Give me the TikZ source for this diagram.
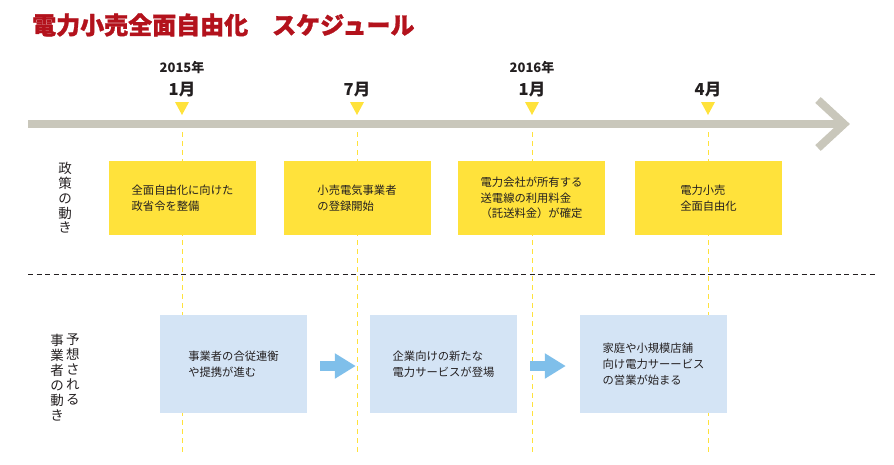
\documentclass[tikz,border=0pt]{standalone}
\usepackage{fontspec}
\setmainfont{Noto Sans CJK JP}
\newfontfamily\titlefont{Noto Sans CJK JP}[BoldFeatures={FakeBold=1.2}]
\usetikzlibrary{positioning,arrows.meta}

\definecolor{titlered}{HTML}{B3121C}
\definecolor{markyellow}{HTML}{FFE23B}
\definecolor{playerblue}{HTML}{D4E4F5}
\definecolor{flowblue}{HTML}{7FBFEA}
\definecolor{axisgray}{HTML}{C9C7BB}
\definecolor{inkgray}{HTML}{231F20}

\tikzset{
  policy/.style={fill=markyellow, minimum width=147pt, minimum height=74pt,
                 align=left, text=inkgray, font=\fontsize{11.3}{15.5}\selectfont},
  player/.style={fill=playerblue, minimum width=147pt, minimum height=98pt,
                 align=left, text=inkgray, font=\fontsize{11.3}{16}\selectfont},
  month/.style={text=inkgray, inner sep=0pt, font=\bfseries\fontsize{16.5}{18}\selectfont},
  year/.style={text=inkgray, inner sep=0pt, font=\bfseries\fontsize{13}{14}\selectfont},
  guide/.style={markyellow, line width=1pt, dash pattern=on 5pt off 4pt},
  flow/.style={flowblue, line width=10pt, -{Triangle[width=24pt,length=21pt]}},
  vlabel/.style={align=center, inner sep=0pt, text=inkgray,
                 font=\fontsize{13.5}{15}\selectfont}
}

\begin{document}
\begin{tikzpicture}[x=1pt, y=-1pt]
  \useasboundingbox (0,0) rectangle (894,464);

  % title
  \node[anchor=west, inner sep=0pt, text=titlered,
        font=\titlefont\bfseries\fontsize{24}{26}\selectfont] (title) at (32,25)
        {電力小売全面自由化　スケジュール};

  % time axis
  \coordinate (axisstart) at (28,124);
  \coordinate (axisend) at (841,124);
  \draw[axisgray, line width=8pt] (axisstart) -- (axisend);
  \draw[axisgray, line width=8pt, miter limit=10] (818,100) -- (844,124) -- (818,148);

  % dates
  \node[month] (jan15) at (182,90) {1月};
  \node[year] (y2015) at (182,67.5) {2015年};
  \node[month] (jul15) at (357,90) {7月};
  \node[month] (jan16) at (532,90) {1月};
  \node[year] (y2016) at (532,67.5) {2016年};
  \node[month] (apr16) at (708,90) {4月};

  \fill[markyellow] (175,102) -- (189,102) -- (182,115) -- cycle;
  \fill[markyellow] (350,102) -- (364,102) -- (357,115) -- cycle;
  \fill[markyellow] (525,102) -- (539,102) -- (532,115) -- cycle;
  \fill[markyellow] (701,102) -- (715,102) -- (708,115) -- cycle;

  \coordinate (g1) at (182,132);
  \coordinate (g2) at (357,132);
  \coordinate (g3) at (532,132);
  \coordinate (g4) at (708,132);
  \draw[guide] (g1) -- ++(0,322);
  \draw[guide] (g2) -- ++(0,322);
  \draw[guide] (g3) -- ++(0,322);
  \draw[guide] (g4) -- ++(0,322);

  % policy row
  \node[vlabel, font=\fontsize{13.5}{14.8}\selectfont] (policylabel) at (65,198)
        {政\\策\\の\\動\\き};
  \node[policy] (p1) at (182.5,198) {全面自由化に向けた\\政省令を整備};
  \node[policy] (p2) at (357,198) {小売電気事業者\\の登録開始};
  \node[policy] (p3) at (531.5,198) {電力会社が所有する\\送電線の利用料金\\（託送料金）が確定};
  \node[policy] (p4) at (708.5,198) {電力小売\\全面自由化};

  \draw[inkgray, line width=1pt, dash pattern=on 5pt off 3.5pt] (28,274) -- (877,274);

  % player row
  \node[vlabel] (playerlabel) at (57,377.5) {事\\業\\者\\の\\動\\き};
  \node[vlabel, right=2pt of playerlabel.north east, anchor=north west] (predlabel)
        {予\\想\\さ\\れ\\る};
  \node[player] (b1) at (233.5,364) {事業者の合従連衡\\や提携が進む};
  \node[player] (b2) at (443.5,364) {企業向けの新たな\\電力サービスが登場};
  \node[player] (b3) at (653.5,364) {家庭や小規模店舗\\向け電力サーービス\\の営業が始まる};

  \draw[flow] ([xshift=13pt, yshift=-2pt]b1.east) -- ([xshift=-14pt, yshift=-2pt]b2.west);
  \draw[flow] ([xshift=13pt, yshift=-2pt]b2.east) -- ([xshift=-14pt, yshift=-2pt]b3.west);
\end{tikzpicture}
\end{document}
